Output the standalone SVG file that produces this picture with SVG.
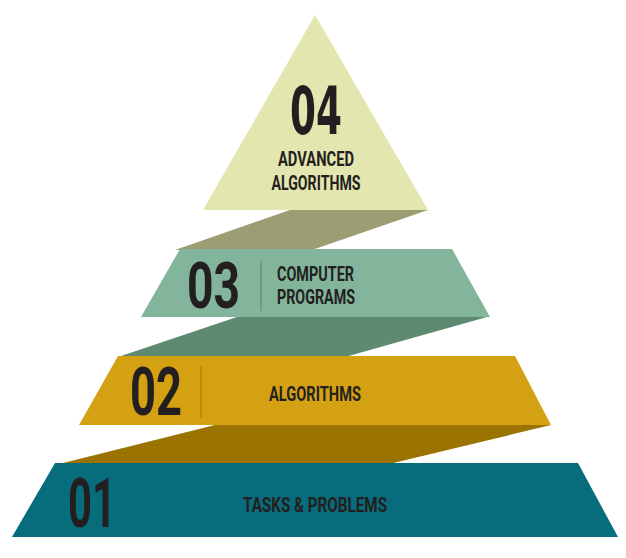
<svg xmlns="http://www.w3.org/2000/svg" width="626" height="558" viewBox="0 0 626 558">
<style>
.num{font-family:"DejaVu Sans Condensed","Liberation Sans Narrow","Roboto",sans-serif;font-weight:bold;fill:#231f20}
.num2{font-family:"Roboto","DejaVu Sans Condensed",sans-serif;font-weight:700;fill:#231f20}
.lbl{font-family:"Roboto","DejaVu Sans Condensed",sans-serif;font-weight:700;fill:#231f20;font-size:20.5px}
</style>
<rect width="626" height="558" fill="#ffffff"/>
<g id="connectors">
<polygon points="290,210 428,210 312,250 175,250" fill="#9c9d72"/>
<polygon points="237,317 487,317 345,357 118,357" fill="#5e8a72"/>
<polygon points="215,425 551,425 385,465 55,465" fill="#9b7300"/>
</g>
<g id="tier4">
<polygon points="315,15 428,210 203,210" fill="#e3e6ae"/>
<text class="num" x="316" y="134" font-size="65" text-anchor="middle" textLength="52" lengthAdjust="spacingAndGlyphs">04</text>
<text class="lbl" x="316" y="166" text-anchor="middle" textLength="76" lengthAdjust="spacingAndGlyphs">ADVANCED</text>
<text class="lbl" x="316" y="190" text-anchor="middle" textLength="89" lengthAdjust="spacingAndGlyphs">ALGORITHMS</text>
</g>
<g id="tier3">
<polygon points="180,249 452,249 490,317 141,317" fill="#82b59c"/>
<line x1="261" y1="261" x2="261" y2="311" stroke="#5e8c74" stroke-width="1.2"/>
<text class="num2" x="187" y="308" font-size="65" textLength="53" lengthAdjust="spacingAndGlyphs">03</text>
<text class="lbl" x="277" y="281" textLength="77" lengthAdjust="spacingAndGlyphs">COMPUTER</text>
<text class="lbl" x="277" y="304" textLength="78" lengthAdjust="spacingAndGlyphs">PROGRAMS</text>
</g>
<g id="tier2">
<polygon points="118,356 515,356 551,425 79,425" fill="#d4a112"/>
<line x1="201" y1="366" x2="201" y2="418" stroke="#a88210" stroke-width="1.2"/>
<text class="num2" x="130" y="415" font-size="67" textLength="52" lengthAdjust="spacingAndGlyphs">02</text>
<text class="lbl" x="269" y="401" textLength="92" lengthAdjust="spacingAndGlyphs">ALGORITHMS</text>
</g>
<g id="tier1">
<polygon points="55,463 578,463 618,537 12,537" fill="#076c7c"/>
<text class="num2" x="68" y="527" font-size="68" textLength="48" lengthAdjust="spacingAndGlyphs">01</text>
<text class="lbl" x="243" y="512" textLength="144" lengthAdjust="spacingAndGlyphs">TASKS &amp; PROBLEMS</text>
</g>
</svg>
